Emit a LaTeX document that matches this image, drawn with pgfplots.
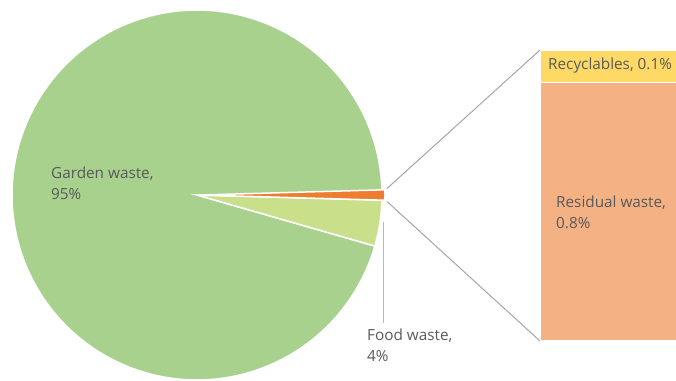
\documentclass[border=0pt]{standalone}
\usepackage{pgfplots}
\pgfplotsset{compat=1.18}
\usepackage{fontspec}
\setmainfont{Open Sans}
\definecolor{garden}{HTML}{A9D18E}
\definecolor{food}{HTML}{C9DF8A}
\definecolor{other}{HTML}{ED7D31}
\definecolor{recyc}{HTML}{FFD966}
\definecolor{resid}{HTML}{F4B183}
\definecolor{txt}{HTML}{595959}
\definecolor{conn}{HTML}{A6A6A6}
% data (percent)
\def\garden{95.1}
\def\food{4}
\def\recy{0.1}
\def\resi{0.8}
\begin{document}
\begin{tikzpicture}
\useasboundingbox (0,0) rectangle (676pt,380pt);
\clip (0,0) rectangle (676pt,380pt);
\begin{axis}[at={(0,0)}, anchor=south west, x=1pt, y=1pt,
  xmin=0, xmax=676, ymin=0, ymax=380, hide axis, clip=false]
\pgfmathsetmacro{\other}{\recy+\resi}
\pgfmathsetmacro{\tot}{\garden+\food+\other}
\pgfmathsetmacro{\ao}{\other/\tot*360/2}
\pgfmathsetmacro{\af}{-\ao-\food/\tot*360}
\pgfmathsetmacro{\ag}{360-\ao}
\def\cx{197}\def\cy{185}\def\r{185}
% pie slices
\addplot[fill=garden, draw=white, line width=1.5pt, domain=\af:\ag, samples=240, variable=\t]
  ({\cx+\r*cos(\t)},{\cy+\r*sin(\t)}) -- (axis cs:\cx,\cy) -- cycle;
\addplot[fill=food, draw=white, line width=1.5pt, domain=-\ao:\af, samples=30, variable=\t]
  ({\cx+\r*cos(\t)},{\cy+\r*sin(\t)}) -- (axis cs:\cx,\cy) -- cycle;
\addplot[fill=other, draw=white, line width=1.5pt, domain=-\ao:\ao, samples=10, variable=\t]
  ({\cx+3+\r*cos(\t)},{\cy+\r*sin(\t)}) -- (axis cs:\cx+3,\cy) -- cycle;
% bar of pie
\pgfmathsetmacro{\yb}{39}
\pgfmathsetmacro{\yt}{330}
\pgfmathsetmacro{\ym}{\yb+(\yt-\yb)*\resi/\other}
\addplot[fill=resid, draw=white, line width=1.5pt] coordinates {(540,\yb) (760,\yb) (760,\ym) (540,\ym)} -- cycle;
\addplot[fill=recyc, draw=white, line width=1.5pt] coordinates {(540,\ym) (760,\ym) (760,\yt) (540,\yt)} -- cycle;
% connector lines
\addplot[conn, line width=1pt] coordinates {(387,191.5) (540,\yt)};
\addplot[conn, line width=1pt] coordinates {(387,178.5) (540,\yb)};
% food leader
\addplot[conn!80, line width=1pt] coordinates {(383,158) (383,57)};
% labels
\begin{scope}[every node/.style={font=\fontsize{15.3}{21}\selectfont, text=txt, inner sep=0pt, align=left}]
\node[anchor=north west] at (axis cs:51,213) {Garden waste,\\95\%};
\node[anchor=north west] at (axis cs:367,51) {Food waste,\\4\%};
\node[anchor=west] at (axis cs:548,314) {Recyclables, 0.1\%};
\node[anchor=north west] at (axis cs:556,184) {Residual waste,\\0.8\%};
\end{scope}
\end{axis}
\end{tikzpicture}
\end{document}
